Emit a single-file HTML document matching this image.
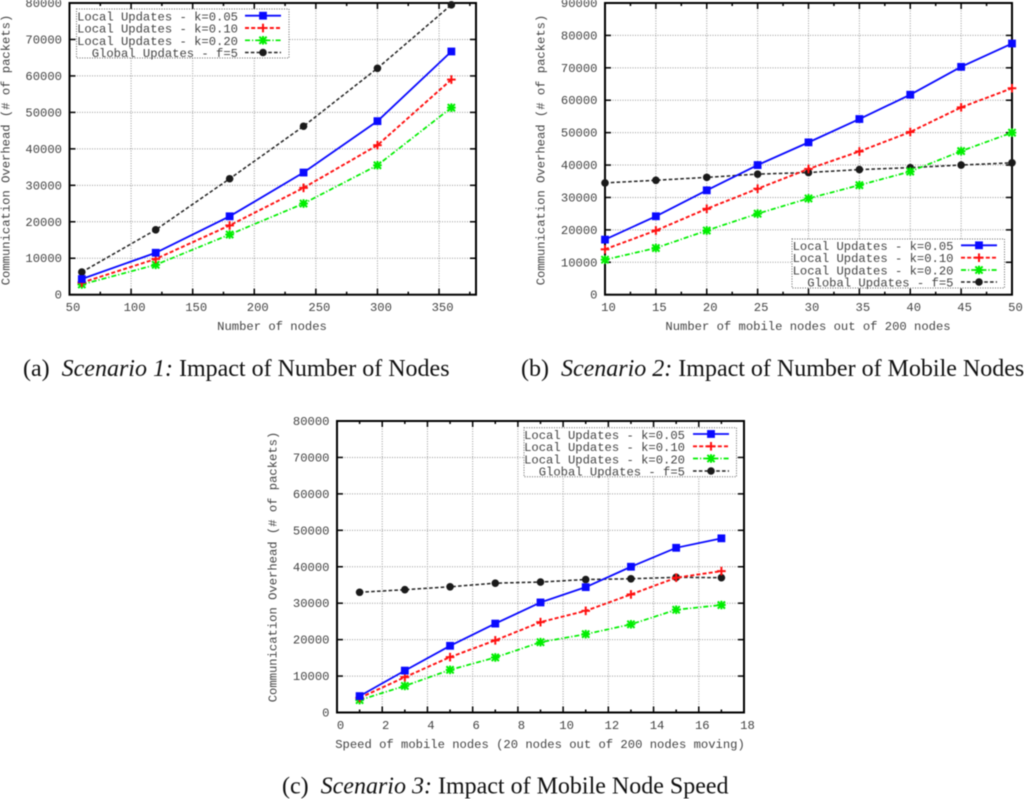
<!DOCTYPE html>
<html lang="en">
<head>
<meta charset="utf-8">
<title>Communication overhead scenarios</title>
<style>
html,body{margin:0;padding:0;background:#fff;}
body{width:1024px;height:799px;overflow:hidden;}
svg{display:block;filter:blur(0.45px);}
.mono{font-family:"Liberation Mono",monospace;font-size:12.2px;fill:#444;}
.cap{font-family:"Liberation Serif",serif;font-size:24px;fill:#111;}
.cap .it{font-style:italic;}
</style>
</head>
<body>
<svg id="figure" xmlns="http://www.w3.org/2000/svg" width="1024" height="799" viewBox="0 0 1024 799">
  <g id="chart-a">
    <g id="layer-a"></g>
    <text class="mono" transform="translate(6.5,150) rotate(-90)" text-anchor="middle" dominant-baseline="middle">Communication Overhead (# of packets)</text>
    <text class="mono" x="272" y="330" text-anchor="middle">Number of nodes</text>
    <g id="legend-a">
      <rect x="76.5" y="9" width="212.5" height="49" fill="#fff" stroke="#666" stroke-width="1" stroke-dasharray="1 1.5"/>
      <text class="mono" x="238" y="20.5" text-anchor="end">Local Updates - k=0.05</text>
      <text class="mono" x="238" y="32.5" text-anchor="end">Local Updates - k=0.10</text>
      <text class="mono" x="238" y="45" text-anchor="end">Local Updates - k=0.20</text>
      <text class="mono" x="238" y="57" text-anchor="end">Global Updates - f=5</text>
    </g>
  </g>
  <g id="chart-b">
    <g id="layer-b"></g>
    <text class="mono" transform="translate(541.5,150) rotate(-90)" text-anchor="middle" dominant-baseline="middle">Communication Overhead (# of packets)</text>
    <text class="mono" x="808" y="330" text-anchor="middle">Number of mobile nodes out of 200 nodes</text>
    <g id="legend-b">
      <rect x="792" y="239" width="212.5" height="49" fill="#fff" stroke="#666" stroke-width="1" stroke-dasharray="1 1.5"/>
      <text class="mono" x="953.5" y="250" text-anchor="end">Local Updates - k=0.05</text>
      <text class="mono" x="953.5" y="262" text-anchor="end">Local Updates - k=0.10</text>
      <text class="mono" x="953.5" y="274.5" text-anchor="end">Local Updates - k=0.20</text>
      <text class="mono" x="953.5" y="286.5" text-anchor="end">Global Updates - f=5</text>
    </g>
  </g>
  <g id="chart-c">
    <g id="layer-c"></g>
    <text class="mono" transform="translate(273.5,567) rotate(-90)" text-anchor="middle" dominant-baseline="middle">Communication Overhead (# of packets)</text>
    <text class="mono" x="540" y="748" text-anchor="middle">Speed of mobile nodes (20 nodes out of 200 nodes moving)</text>
    <g id="legend-c">
      <rect x="524" y="427.7" width="212.5" height="49" fill="#fff" stroke="#666" stroke-width="1" stroke-dasharray="1 1.5"/>
      <text class="mono" x="685" y="439" text-anchor="end">Local Updates - k=0.05</text>
      <text class="mono" x="685" y="451" text-anchor="end">Local Updates - k=0.10</text>
      <text class="mono" x="685" y="463.5" text-anchor="end">Local Updates - k=0.20</text>
      <text class="mono" x="685" y="475.5" text-anchor="end">Global Updates - f=5</text>
    </g>
  </g>
  <text class="cap" x="23" y="376" xml:space="preserve">(a)  <tspan class="it">Scenario 1:</tspan> Impact of Number of Nodes</text>
  <text class="cap" x="521" y="376" xml:space="preserve">(b)  <tspan class="it">Scenario 2:</tspan> Impact of Number of Mobile Nodes</text>
  <text class="cap" x="282" y="793.5" xml:space="preserve">(c)  <tspan class="it">Scenario 3:</tspan> Impact of Mobile Node Speed</text>
</svg>
<script>
const xTicksA = [50,100,150,200,250,300,350];
const yTicksA = [0,10000,20000,30000,40000,50000,60000,70000,80000];
const categoriesA = [60,120,180,240,300,360];
const localK05A = [4300,11500,21500,33500,47600,66700];
const localK10A = [3300,9800,19000,29300,41000,59000];
const localK20A = [2800,8200,16500,25000,35500,51300];
const globalF5A = [6200,17800,31800,46200,62100,79500];

const xTicksB = [10,15,20,25,30,35,40,45,50];
const yTicksB = [0,10000,20000,30000,40000,50000,60000,70000,80000,90000];
const categoriesB = [10,15,20,25,30,35,40,45,50];
const localK05B = [17000,24200,32200,40000,47000,54200,61700,70300,77500];
const localK10B = [14000,19800,26500,32700,38800,44200,50200,57800,63700];
const localK20B = [10800,14400,19800,25000,29700,33800,38000,44300,50000];
const globalF5B = [34500,35300,36200,37200,37700,38600,39200,40000,40700];

const xTicksC = [0,2,4,6,8,10,12,14,16,18];
const yTicksC = [0,10000,20000,30000,40000,50000,60000,70000,80000];
const categoriesC = [1,3,5,7,9,11,13,15,17];
const localK05C = [4500,11500,18300,24400,30200,34400,40000,45200,47800];
const localK10C = [4000,9700,15200,19800,24800,27900,32400,37000,38800];
const localK20C = [3400,7300,11700,15100,19300,21500,24200,28200,29500];
const globalF5C = [33000,33700,34500,35500,35800,36500,36700,37100,37000];

const NS = 'http://www.w3.org/2000/svg';

function make(parent, tag, attrs) {
  const el = document.createElementNS(NS, tag);
  for (const k in attrs) el.setAttribute(k, attrs[k]);
  parent.appendChild(el);
  return el;
}

function drawMarker(parent, kind, x, y) {
  const g = make(parent, 'g', {});
  
  
  if (kind === 'square') {
    make(g, 'rect', {x: x - 3.9, y: y - 3.9, width: 7.8, height: 7.8, fill: '#0a0aff'});
  } else if (kind === 'plus') {
    const s = {stroke: '#ff1010', 'stroke-width': 2};
    make(g, 'line', Object.assign({x1: x - 4.3, y1: y, x2: x + 4.3, y2: y}, s));
    make(g, 'line', Object.assign({x1: x, y1: y - 4.3, x2: x, y2: y + 4.3}, s));
  } else if (kind === 'star') {
    const s = {stroke: '#00ee00', 'stroke-width': 2};
    make(g, 'line', Object.assign({x1: x - 4.3, y1: y, x2: x + 4.3, y2: y}, s));
    make(g, 'line', Object.assign({x1: x, y1: y - 4.3, x2: x, y2: y + 4.3}, s));
    make(g, 'line', Object.assign({x1: x - 3.6, y1: y - 3.6, x2: x + 3.6, y2: y + 3.6}, s));
    make(g, 'line', Object.assign({x1: x - 3.6, y1: y + 3.6, x2: x + 3.6, y2: y - 3.6}, s));
  } else {
    make(g, 'circle', {cx: x, cy: y, r: 3.8, fill: '#1a1a1a'});
  }
}

const styles = [
  {color: '#0a0aff', width: 1.8, dash: 'none', marker: 'square'},
  {color: '#ff1010', width: 1.9, dash: '4 2.2', marker: 'plus'},
  {color: '#00ee00', width: 1.7, dash: '5 2 1.2 2', marker: 'star'},
  {color: '#222222', width: 1.5, dash: '3.6 2.2', marker: 'circle'}
];

function drawChart(layerId, legendId, box, xDomain, yDomain, xTicks, yTicks, cats, seriesList, legendSampleX, legendRowsY) {
  const layer = document.getElementById(layerId);
  const sx = v => box.left + (v - xDomain[0]) / (xDomain[1] - xDomain[0]) * (box.right - box.left);
  const sy = v => box.bottom - (v - yDomain[0]) / (yDomain[1] - yDomain[0]) * (box.bottom - box.top);

  xTicks.forEach(t => {
    if (t === xDomain[0] || t === xDomain[1]) return;
    const grid = make(layer, 'line', {x1: sx(t), y1: box.top, x2: sx(t), y2: box.bottom, stroke: '#9a9a9a', 'stroke-width': 1, 'stroke-dasharray': '1 1.5'});
    
    
  });
  yTicks.forEach(t => {
    if (t === yDomain[0] || t === yDomain[1]) return;
    const grid = make(layer, 'line', {x1: box.left, y1: sy(t), x2: box.right, y2: sy(t), stroke: '#9a9a9a', 'stroke-width': 1, 'stroke-dasharray': '1 1.5'});
    
    
  });

  const step = xTicks[1] - xTicks[0];
  for (let m = xTicks[0]; m <= xDomain[1]; m += step / 2) {
    const major = xTicks.indexOf(m) >= 0;
    const len = major ? 6 : 3;
    const t1 = make(layer, 'line', {x1: sx(m), y1: box.bottom, x2: sx(m), y2: box.bottom - len, stroke: '#000', 'stroke-width': 1.5});
    
    
    const t2 = make(layer, 'line', {x1: sx(m), y1: box.top, x2: sx(m), y2: box.top + len, stroke: '#000', 'stroke-width': 1.5});
    
    
  }
  xTicks.forEach(t => {
    const label = make(layer, 'text', {x: sx(t) + 3.5, y: box.bottom + 16.5, 'text-anchor': 'middle', class: 'mono'});
    
    
    label.textContent = t;
  });
  yTicks.forEach(t => {
    const tl = make(layer, 'line', {x1: box.left, y1: sy(t), x2: box.left + 6, y2: sy(t), stroke: '#000', 'stroke-width': 1.5});
    
    
    const tr = make(layer, 'line', {x1: box.right, y1: sy(t), x2: box.right - 6, y2: sy(t), stroke: '#000', 'stroke-width': 1.5});
    
    
    const label = make(layer, 'text', {x: box.left - 7.5, y: sy(t) + 4, 'text-anchor': 'end', class: 'mono'});
    
    
    label.textContent = t;
  });

  const frame = make(layer, 'rect', {x: box.left, y: box.top, width: box.right - box.left, height: box.bottom - box.top, fill: 'none', stroke: '#000', 'stroke-width': 2});
  
  

  seriesList.slice().reverse().forEach((values, ri) => {
    const st = styles[seriesList.length - 1 - ri];
    const path = make(layer, 'polyline', {
      points: values.map((v, i) => sx(cats[i]) + ',' + sy(v)).join(' '),
      fill: 'none', stroke: st.color, 'stroke-width': st.width, 'stroke-dasharray': st.dash
    });
    
    
    values.forEach((v, i) => drawMarker(layer, st.marker, sx(cats[i]), sy(v)));
  });

  const legend = document.getElementById(legendId);
  styles.forEach((st, i) => {
    const y = legendRowsY[i];
    const sample = make(legend, 'line', {x1: legendSampleX, y1: y, x2: legendSampleX + 36, y2: y, stroke: st.color, 'stroke-width': st.width, 'stroke-dasharray': st.dash});
    
    
    drawMarker(legend, st.marker, legendSampleX + 18, y);
  });
}

drawChart('layer-a', 'legend-a', {left: 69.5, right: 476, top: 3, bottom: 294.7}, [50, 380], [0, 80000],
  xTicksA, yTicksA, categoriesA, [localK05A, localK10A, localK20A, globalF5A], 245, [15.7, 28, 40.3, 52.5]);
drawChart('layer-b', 'legend-b', {left: 605, right: 1012, top: 3, bottom: 294.7}, [10, 50], [0, 90000],
  xTicksB, yTicksB, categoriesB, [localK05B, localK10B, localK20B, globalF5B], 961, [245.3, 257.7, 270, 282]);
drawChart('layer-c', 'legend-c', {left: 337, right: 744, top: 421, bottom: 712.5}, [0, 18], [0, 80000],
  xTicksC, yTicksC, categoriesC, [localK05C, localK10C, localK20C, globalF5C], 693, [434, 446.3, 458.5, 471]);
</script>
</body>
</html>
